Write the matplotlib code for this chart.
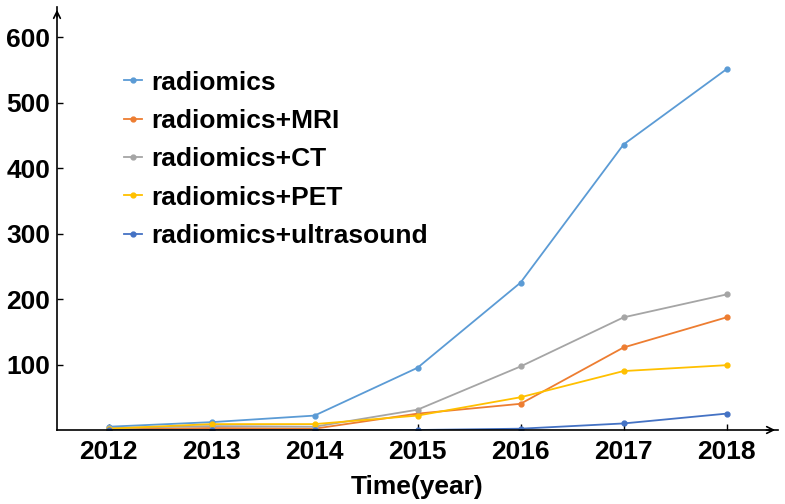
import numpy as np
import matplotlib.pyplot as plt

plt.rcParams['font.family'] = ['Liberation Sans', 'DejaVu Sans']
plt.rcParams['font.weight'] = 'bold'

years = [2012, 2013, 2014, 2015, 2016, 2017, 2018]
radiomics = [5, 12, 22, 95, 225, 436, 551]
mri = [1, 3, 2, 25, 40, 126, 172]
ct = [3, 6, 5, 31, 97, 172, 207]
pet = [2, 9, 9, 22, 50, 90, 99]
ultrasound = [0, 0, 0, 0, 2, 10, 25]

names = ['radiomics', 'radiomics+MRI', 'radiomics+CT', 'radiomics+PET', 'radiomics+ultrasound']
colors = ['#5B9BD5', '#ED7D31', '#A5A5A5', '#FFC000', '#4472C4']

fig = plt.figure(figsize=(7.85, 5.04), dpi=100)
ax = fig.add_axes([57 / 785, 74 / 504, (778 - 57) / 785, (430 - 7) / 504])

for vals, name, c in zip([radiomics, mri, ct, pet, ultrasound], names, colors):
    ax.plot(years, vals, color=c, linewidth=1.3, marker='o', markersize=3.5, label=name)

ax.set_xlim(2011.5, 2018.5)
ax.set_ylim(0, 646)
ax.set_xticks(years)
ax.set_yticks([100, 200, 300, 400, 500, 600])
ax.tick_params(direction='in', length=4, labelsize=19, width=1)
for t in ax.get_xticklabels() + ax.get_yticklabels():
    t.set_fontweight('bold')
ax.tick_params(axis='x', pad=7)
ax.tick_params(axis='y', pad=5)

for s in ['top', 'right']:
    ax.spines[s].set_visible(False)
ax.spines['left'].set_linewidth(1.2)
ax.spines['bottom'].set_linewidth(1.2)
ax.annotate('', xy=(1.0, 0), xytext=(0.98, 0), xycoords='axes fraction',
            arrowprops=dict(arrowstyle='->', color='black', lw=1.2, mutation_scale=12))
ax.annotate('', xy=(0, 1.0), xytext=(0, 0.97), xycoords='axes fraction',
            arrowprops=dict(arrowstyle='->', color='black', lw=1.2, mutation_scale=12))

ax.set_xlabel('Time(year)', fontsize=19, fontweight='bold', labelpad=8)

leg = ax.legend(loc='upper left', bbox_to_anchor=(0.060, 0.906), frameon=False,
                prop={'size': 19, 'weight': 'bold'}, handlelength=0.7,
                labelspacing=0.545, handletextpad=0.35)

fig.savefig('out.png', dpi=100)
